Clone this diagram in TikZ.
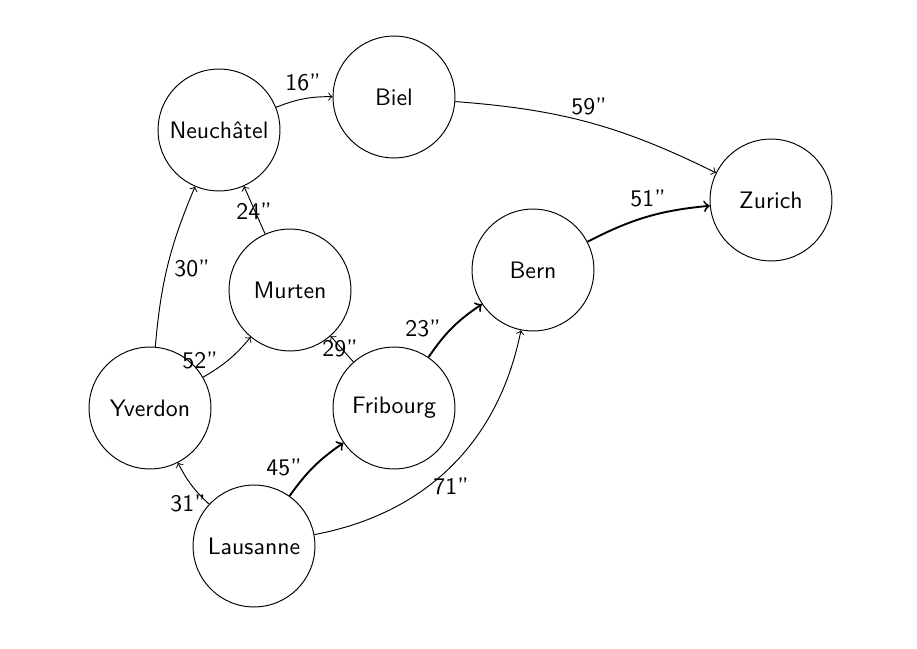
\documentclass[tikz,border=0pt]{standalone}
\usetikzlibrary{arrows}
\begin{document}
\begin{tikzpicture}[x=0.42pt,y=-0.42pt,
  city/.style={circle,draw,minimum size=51.2pt,inner sep=0pt,font=\sffamily},
  lbl/.style={font=\sffamily,inner sep=0pt},
  road/.style={->,line width=0.4pt},
  fast/.style={->,line width=0.8pt}]
\useasboundingbox (0,0) rectangle (917,649);
\node[city] (neu) at (219,130) {Neuchâtel};
\node[city] (biel) at (394,97) {Biel};
\node[city] (zur) at (771,200) {Zurich};
\node[city] (mur) at (290,290) {Murten};
\node[city] (bern) at (533,270) {Bern};
\node[city] (yv) at (150,408) {Yverdon};
\node[city] (fri) at (394,408) {Fribourg};
\node[city] (lau) at (254,546) {Lausanne};

\draw[road] (neu) to[bend left=11] (biel);
\draw[road] (biel) to[bend left=11] (zur);
\draw[fast] (bern) to[bend left=11] (zur);
\draw[road] (mur) -- (neu);
\draw[road] (yv) to[bend left=9] (neu);
\draw[road] (yv) to[bend right=10] (mur);
\draw[road] (fri) -- (mur);
\draw[fast] (fri) to[bend left=11] (bern);
\draw[fast] (lau) to[bend left=10] (fri);
\draw[road] (lau) to[bend left=10] (yv);
\draw[road] (lau) to[bend right=34] (bern);

\node[lbl] (l16) at (303,82) {16''};
\node[lbl] (l59) at (589,106) {59''};
\node[lbl] (l51) at (648,198) {51''};
\node[lbl] (l24) at (254,211) {24''};
\node[lbl] (l30) at (192,268) {30''};
\node[lbl] (l52) at (200,360) {52''};
\node[lbl] (l29) at (340,348) {29''};
\node[lbl] (l23) at (423,328) {23''};
\node[lbl] (l45) at (284,467) {45''};
\node[lbl] (l71) at (451,486) {71''};
\node[lbl] (l31) at (188,503) {31''};
\end{tikzpicture}
\end{document}
